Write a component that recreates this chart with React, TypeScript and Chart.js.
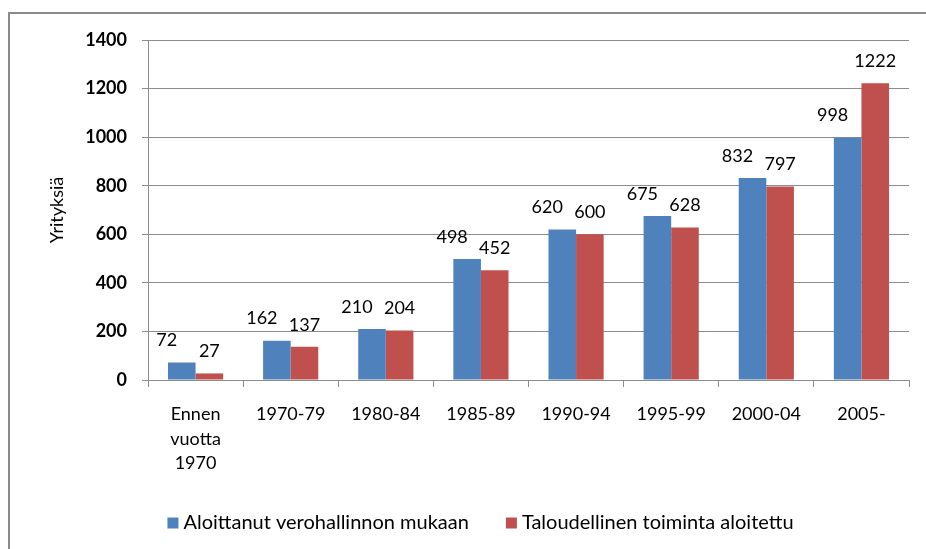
import { useEffect, useRef } from "react";
import { Chart, registerables } from "chart.js";

Chart.register(...registerables);

const categories: (string | string[])[] = [
  ["Ennen", "vuotta", "1970"],
  "1970-79",
  "1980-84",
  "1985-89",
  "1990-94",
  "1995-99",
  "2000-04",
  "2005-",
];
const seriesNames = ["Aloittanut verohallinnon mukaan", "Taloudellinen toiminta aloitettu"];
const verohallinto = [72, 162, 210, 498, 620, 675, 832, 998];
const toiminta = [27, 137, 204, 452, 600, 628, 797, 1222];
const yTicks = [0, 200, 400, 600, 800, 1000, 1200, 1400];
const yTitle = "Yrityksiä";

const BLUE = "#4F81BD";
const RED = "#C0504D";
const GRID = "#8c8c8c";
const FONT = "Lato";

const valueLabels = {
  id: "valueLabels",
  afterDatasetsDraw(chart: any) {
    const ctx = chart.ctx;
    ctx.save();
    ctx.font = `18px ${FONT}`;
    ctx.fillStyle = "#000";
    ctx.textAlign = "center";
    ctx.textBaseline = "middle";
    const shift = [-15, 0];
    chart.data.datasets.forEach((ds: any, di: number) => {
      const meta = chart.getDatasetMeta(di);
      meta.data.forEach((bar: any, i: number) => {
        ctx.fillText(String(ds.data[i]), bar.x + shift[di], bar.y - 22);
      });
    });
    ctx.restore();
  },
};

const customLegend = {
  id: "customLegend",
  afterDraw(chart: any) {
    const ctx = chart.ctx;
    ctx.save();
    ctx.font = `20px ${FONT}`;
    ctx.textBaseline = "middle";
    ctx.textAlign = "left";
    const box = 11;
    const gap = 5;
    const spacing = 37;
    const items = chart.data.datasets.map((ds: any) => ({
      text: ds.label,
      color: ds.backgroundColor,
      w: box + gap + ctx.measureText(ds.label).width,
    }));
    const total = items.reduce((a: number, it: any) => a + it.w, 0) + spacing * (items.length - 1);
    let x = 480.5 - total / 2;
    const cy = 523;
    items.forEach((it: any) => {
      ctx.fillStyle = it.color;
      ctx.fillRect(x, cy - box / 2, box, box);
      ctx.fillStyle = "#000";
      ctx.fillText(it.text, x + box + gap, cy);
      x += it.w + spacing;
    });
    ctx.restore();
  },
};

export default function App() {
  const ref = useRef<HTMLCanvasElement | null>(null);

  useEffect(() => {
    if (!ref.current) return;
    const chart = new Chart(ref.current, {
      type: "bar",
      data: {
        labels: categories,
        datasets: [
          {
            label: seriesNames[0],
            data: verohallinto,
            backgroundColor: BLUE,
            categoryPercentage: 0.58,
            barPercentage: 1.0,
          },
          {
            label: seriesNames[1],
            data: toiminta,
            backgroundColor: RED,
            categoryPercentage: 0.58,
            barPercentage: 1.0,
          },
        ],
      },
      options: {
        responsive: false,
        animation: false,
        devicePixelRatio: 1,
        layout: { padding: { left: 35, right: 17, top: 40, bottom: 0 } },
        plugins: {
          legend: { display: false },
          tooltip: { enabled: false },
        },
        scales: {
          x: {
            ticks: {
              color: "#000",
              font: { family: FONT, size: 18, lineHeight: 1.36 },
              padding: 15,
              maxRotation: 0,
              autoSkip: false,
            },
            grid: {
              drawOnChartArea: false,
              drawTicks: true,
              tickLength: 7,
              color: GRID,
              offset: true,
            },
            border: { display: true, color: GRID },
            afterFit: (s: any) => {
              s.height = 169;
            },
          },
          y: {
            min: 0,
            max: 1400,
            afterBuildTicks: (s: any) => {
              s.ticks = yTicks.map((v) => ({ value: v }));
            },
            ticks: {
              color: "#000",
              padding: 15,
              font: { family: FONT, size: 18, weight: "bold" },
              callback: (v: any) => String(v),
            },
            grid: { color: GRID, tickLength: 6, drawTicks: true, lineWidth: 1 },
            border: { display: true, color: GRID },
            title: {
              display: true,
              text: yTitle,
              color: "#000",
              font: { family: FONT, size: 18 },
              padding: { top: 11, bottom: 0 },
            },
            afterFit: (s: any) => {
              s.width = 113;
            },
          },
        },
      },
      plugins: [valueLabels, customLegend],
    });
    return () => chart.destroy();
  }, []);

  return (
    <div>
      <div
        style={{
          position: "fixed",
          left: 8,
          top: 12,
          width: 2000,
          height: 2000,
          borderLeft: "2px solid #8a8a8a",
          borderTop: "2px solid #8a8a8a",
        }}
      />
      <canvas
        ref={ref}
        width={926}
        height={549}
        style={{ position: "fixed", left: 0, top: 0, width: 926, height: 549 }}
      />
    </div>
  );
}
